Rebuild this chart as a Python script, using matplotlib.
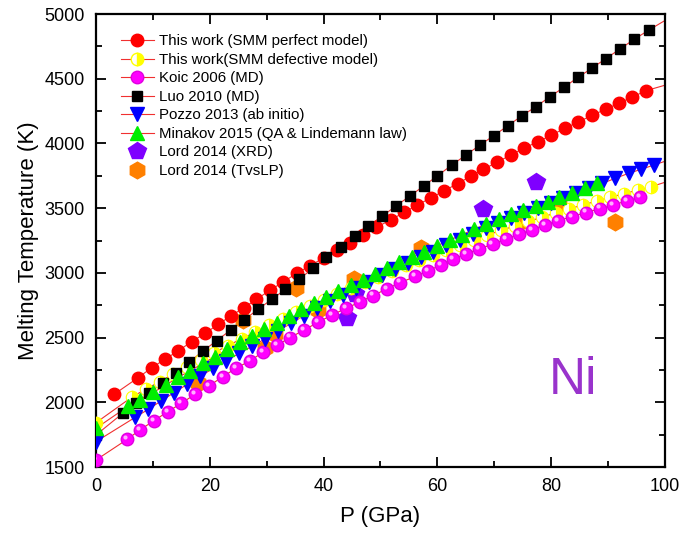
import numpy as np
import matplotlib
matplotlib.use('Agg')
import matplotlib.pyplot as plt
import matplotlib.transforms as mtransforms

plt.rcParams['font.family'] = ['Liberation Sans', 'DejaVu Sans']

# SMM perfect model (red circles)
p_smm = [3.2, 7.4, 9.8, 12.1, 14.5, 16.8, 19.2, 21.5, 23.7, 26.0, 28.2, 30.6, 32.9,
         35.3, 37.6, 40.0, 42.3, 44.6, 47.0, 49.3, 51.8, 54.2, 56.5, 58.9, 61.2,
         63.6, 65.9, 68.1, 70.5, 72.9, 75.3, 77.7, 80.0, 82.4, 84.8, 87.2, 89.6,
         91.9, 94.2, 96.7]
t_smm = [2062, 2190, 2267, 2332, 2399, 2468, 2533, 2603, 2667, 2731, 2796, 2866, 2930,
         2997, 3055, 3115, 3175, 3234, 3293, 3352, 3410, 3468, 3525, 3580, 3635,
         3690, 3749, 3801, 3855, 3911, 3965, 4014, 4063, 4117, 4166, 4218, 4264,
         4311, 4357, 4408]

# SMM defective model (half yellow)
p_def = [0, 6.4, 8.8, 11.2, 13.6, 16.0, 18.4, 20.8, 23.2, 25.6, 28.0, 30.4, 32.8,
         35.2, 37.6, 40.0, 42.4, 44.8, 47.2, 49.6, 52.0, 54.4, 56.8, 59.2, 61.6,
         64.0, 66.4, 68.8, 71.2, 73.6, 76.0, 78.4, 80.8, 83.2, 85.6, 88.0, 90.4,
         92.8, 95.2, 97.6]
t_def = [1842, 2043, 2102, 2160, 2218, 2274, 2330, 2384, 2438, 2491, 2543, 2594, 2644,
         2694, 2742, 2790, 2837, 2882, 2927, 2971, 3015, 3057, 3098, 3139, 3178,
         3217, 3255, 3292, 3328, 3363, 3397, 3431, 3463, 3495, 3525, 3555, 3584,
         3612, 3639, 3666]

# Koic 2006 (MD)
p_koic = [0, 5.5, 7.7, 10.2, 12.6, 15.0, 17.4, 19.9, 22.3, 24.6, 27.1, 29.4, 31.9,
          34.1, 36.6, 39.1, 41.5, 43.9, 46.4, 48.7, 51.2, 53.5, 56.1, 58.4, 60.7,
          62.8, 65.1, 67.4, 69.7, 72.1, 74.3, 76.6, 78.9, 81.2, 83.6, 86.1, 88.6,
          90.9, 93.3, 95.6]
t_koic = [1554, 1714, 1786, 1858, 1927, 1992, 2062, 2128, 2198, 2263, 2321, 2389, 2443,
          2500, 2559, 2620, 2675, 2725, 2775, 2825, 2878, 2925, 2972, 3017, 3062,
          3105, 3148, 3185, 3222, 3260, 3298, 3333, 3370, 3403, 3434, 3466, 3497,
          3525, 3556, 3585]

# Luo 2010 (MD)
p_luo = [0, 4.7, 7.0, 9.4, 11.7, 14.1, 16.4, 18.75, 21.2, 23.7, 26.0, 28.5, 30.9,
         33.3, 35.7, 38.2, 40.5, 43.0, 45.5, 47.8, 50.3, 52.7, 55.2, 57.6, 60.0,
         62.5, 65.0, 67.5, 69.9, 72.4, 74.8, 77.3, 79.8, 82.3, 84.8, 87.2, 89.6,
         92.1, 94.6, 97.2]
t_luo = [1747, 1915, 1992, 2074, 2151, 2229, 2311, 2394, 2476, 2559, 2636, 2719, 2796,
         2873, 2953, 3035, 3120, 3203, 3285, 3362, 3437, 3517, 3594, 3672, 3749,
         3832, 3910, 3988, 4060, 4137, 4212, 4284, 4361, 4436, 4513, 4583, 4655,
         4730, 4805, 4877]

# Pozzo 2013 (ab initio)
p_pozzo = [0, 6.9, 9.2, 11.5, 13.7, 16.0, 18.3, 20.6, 22.9, 25.1, 27.4, 29.7, 32.0,
           34.3, 36.5, 38.8, 41.1, 43.4, 45.7, 47.9, 50.2, 52.5, 54.8, 57.1, 59.3,
           61.6, 63.9, 66.2, 68.5, 70.7, 73.0, 75.3, 77.6, 79.9, 82.1, 84.4, 86.7,
           89.0, 91.3, 93.6, 95.8, 98.1]
t_pozzo = [1696, 1884, 1946, 2012, 2074, 2138, 2200, 2262, 2320, 2377, 2432, 2490, 2552,
           2610, 2668, 2725, 2780, 2830, 2880, 2930, 2980, 3030, 3075, 3120, 3165,
           3212, 3257, 3302, 3345, 3385, 3425, 3465, 3503, 3540, 3578, 3615, 3652,
           3692, 3731, 3769, 3800, 3834]

# Minakov 2015 (QA & Lindemann law)
p_mina = [0, 5.7, 7.8, 10.1, 12.3, 14.5, 16.6, 18.8, 20.9, 23.1, 25.3, 27.5, 29.5,
          31.8, 34.0, 36.1, 38.4, 40.5, 42.6, 44.8, 47.0, 49.0, 51.2, 53.3, 55.6,
          57.6, 59.9, 62.2, 64.4, 66.5, 68.6, 70.9, 72.9, 75.1, 77.3, 79.5, 81.4,
          83.6, 85.9, 88.1]
t_mina = [1799, 1971, 2018, 2077, 2134, 2195, 2244, 2301, 2352, 2409, 2463, 2512, 2564,
          2615, 2668, 2719, 2770, 2816, 2860, 2903, 2945, 2995, 3040, 3085, 3125,
          3164, 3208, 3255, 3295, 3338, 3376, 3414, 3453, 3486, 3517, 3550, 3584,
          3620, 3653, 3697]

# Lord 2014 experiments
p_xrd = [44.1, 45.6, 68.0, 77.3]
t_xrd = [2655, 2840, 3495, 3700]
p_tvslp = [18.0, 25.9, 29.7, 31.5, 35.2, 39.1, 45.3, 57.1, 74.9, 81.3, 91.2]
t_tvslp = [2150, 2636, 2420, 2525, 2880, 2713, 2950, 3195, 3400, 3530, 3393]

# where the fit lines end at the right border
line_end = {'smm': 4450, 'def': 3700, 'luo': 4950, 'pozzo': 3862}

fig = plt.figure(figsize=(6.98, 5.35), dpi=100)
ax = fig.add_axes([0.1375, 0.1271, 0.8152, 0.8467])

lc = '#f03030'
lw = 0.8

# fit / connecting lines
ax.plot(p_smm + [100], t_smm + [line_end['smm']], color=lc, lw=lw, zorder=2)
ax.plot(p_def + [100], t_def + [line_end['def']], color=lc, lw=lw, zorder=2)
ax.plot(p_koic, t_koic, color=lc, lw=lw, zorder=2)
ax.plot(p_luo + [100], t_luo + [line_end['luo']], color=lc, lw=lw, zorder=2)
ax.plot(p_pozzo + [100], t_pozzo + [line_end['pozzo']], color=lc, lw=lw, zorder=2)
ax.plot(p_mina, t_mina, color=lc, lw=lw, zorder=2)

# experimental points (behind)
ax.plot(p_tvslp, t_tvslp, 'h', color='#ff8000', ms=12, mec='#ff8000', ls='none', zorder=3)
ax.plot(p_xrd, t_xrd, 'p', color='#7f00ff', ms=13, mec='#7f00ff', ls='none', zorder=3)

ax.plot(p_def, t_def, 'o', ls='none', ms=9, mfc='#ffff00', mfcalt='white',
        fillstyle='right', mec='#ffff00', mew=0.8, zorder=4)
ax.plot(p_koic, t_koic, 'o', ls='none', ms=9, mfc='#ff00ff', mec='#e000e0', zorder=5)
# little shine on the magenta balls
shine = mtransforms.offset_copy(ax.transData, fig=fig, x=-1.5, y=1.5, units='points')
ax.plot(p_koic, t_koic, 'o', ls='none', ms=3, mfc='#ffb0ff', mec='none',
        transform=shine, zorder=5.1)
ax.plot(p_smm, t_smm, 'o', ls='none', ms=9, mfc='#ff0000', mec='#ff0000', zorder=5)
ax.plot(p_luo, t_luo, 's', ls='none', ms=7.5, mfc='black', mec='black', zorder=6)
ax.plot(p_pozzo, t_pozzo, 'v', ls='none', ms=9.5, mfc='#0000ff', mec='#0000ff', zorder=6)
ax.plot(p_mina, t_mina, '^', ls='none', ms=9.5, mfc='#00ee00', mec='#00ee00', zorder=7)

# legend handles
h1, = ax.plot([], [], '-o', color=lc, lw=lw, ms=9, mfc='#ff0000', mec='#ff0000')
h2, = ax.plot([], [], '-o', color=lc, lw=lw, ms=9, mfc='#ffff00', mfcalt='white',
              fillstyle='right', mec='#ffff00')
h3, = ax.plot([], [], '-o', color=lc, lw=lw, ms=9, mfc='#ff00ff', mec='#e000e0')
h4, = ax.plot([], [], '-s', color=lc, lw=lw, ms=7.5, mfc='black', mec='black')
h5, = ax.plot([], [], '-v', color=lc, lw=lw, ms=9.5, mfc='#0000ff', mec='#0000ff')
h6, = ax.plot([], [], '-^', color=lc, lw=lw, ms=9.5, mfc='#00ee00', mec='#00ee00')
h7, = ax.plot([], [], 'p', color='#7f00ff', ms=13, ls='none')
h8, = ax.plot([], [], 'h', color='#ff8000', ms=12, ls='none')
labels = ['This work (SMM perfect model)', 'This work(SMM defective model)',
          'Koic 2006 (MD)', 'Luo 2010 (MD)', 'Pozzo 2013 (ab initio)',
          'Minakov 2015 (QA & Lindemann law)', 'Lord 2014 (XRD)', 'Lord 2014 (TvsLP)']
ax.legend([h1, h2, h3, h4, h5, h6, h7, h8], labels, loc='upper left',
          bbox_to_anchor=(0.02, 0.985), frameon=False, fontsize=10.8,
          handlelength=2.2, handletextpad=0.35, labelspacing=0.3)

ax.text(83.8, 2165, 'Ni', color='#9933cc', fontsize=37, ha='center', va='center')

ax.set_xlim(0, 100)
ax.set_ylim(1500, 5000)
ax.set_xticks(np.arange(0, 101, 20))
ax.set_xticks(np.arange(0, 101, 10), minor=True)
ax.set_yticks(np.arange(1500, 5001, 500))
ax.set_yticks(np.arange(1500, 5001, 250), minor=True)
ax.tick_params(which='both', direction='in', top=True, right=True, width=1.3)
ax.tick_params(which='major', length=7, labelsize=13, pad=8)
ax.tick_params(which='minor', length=4)
for s in ax.spines.values():
    s.set_linewidth(1.6)

ax.set_xlabel('P (GPa)', fontsize=16, labelpad=8)
ax.set_ylabel('Melting Temperature (K)', fontsize=16, labelpad=4)

fig.savefig('out.png', dpi=100)
